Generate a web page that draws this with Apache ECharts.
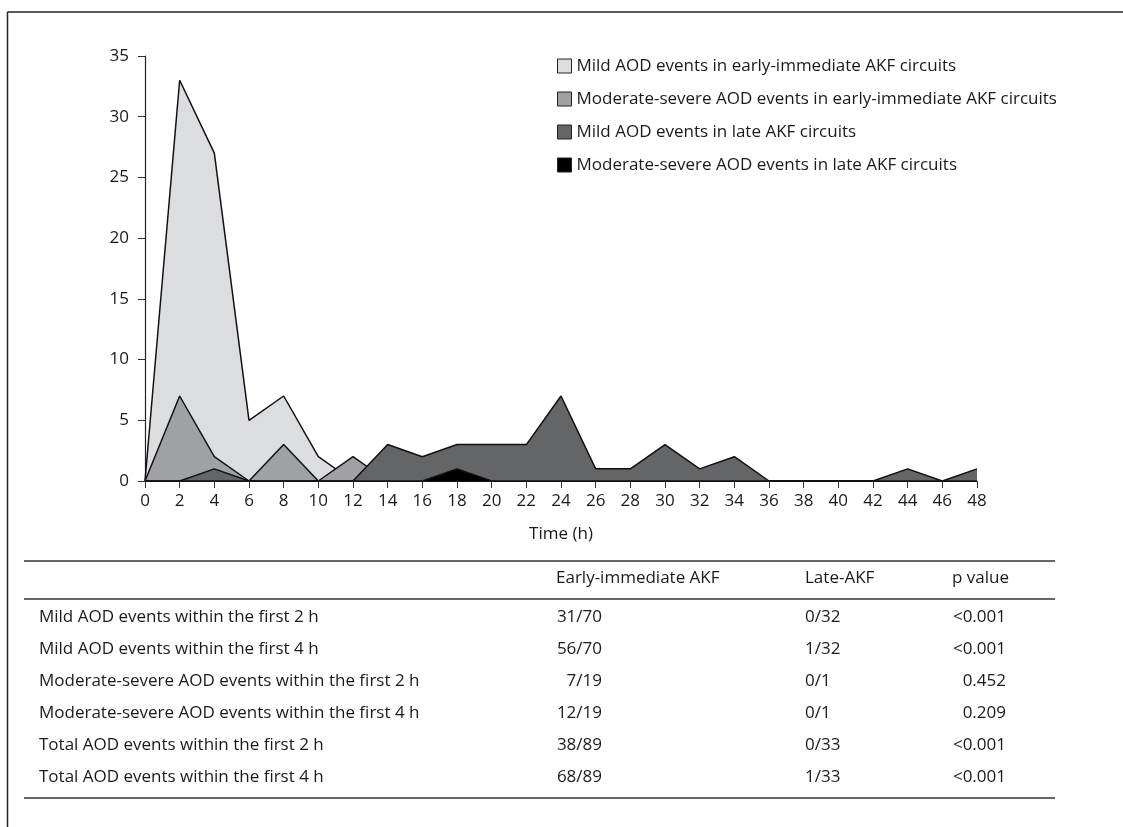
<!DOCTYPE html>
<html>
<head>
<meta charset="utf-8">
<script src="https://cdn.jsdelivr.net/npm/echarts@6/dist/echarts.min.js"></script>
<style>
html,body{margin:0;padding:0;background:#fff;}
#c{width:1123px;height:827px;}
</style>
</head>
<body>
<div id="c"></div>
<script>
// ---- chart data ----
const hours = ['0','2','4','6','8','10','12','14','16','18','20','22','24','26','28','30','32','34','36','38','40','42','44','46','48'];
const mildEarly   = [0,33,27,5,7,2,0,0,0,0,0,0,0,0,0,0,0,0,0,0,0,0,0,0,0];
const modSevEarly = [0,7,2,0,3,0,2,0,0,0,0,0,0,0,0,0,0,0,0,0,0,0,0,0,0];
const mildLate    = [0,0,1,0,0,0,0,3,2,3,3,3,7,1,1,3,1,2,0,0,0,0,1,0,1];
const modSevLate  = [0,0,0,0,0,0,0,0,0,1,0,0,0,0,0,0,0,0,0,0,0,0,0,0,0];
const seriesNames = [
  'Mild AOD events in early-immediate AKF circuits',
  'Moderate-severe AOD events in early-immediate AKF circuits',
  'Mild AOD events in late AKF circuits',
  'Moderate-severe AOD events in late AKF circuits'
];
const yTicks = [0,5,10,15,20,25,30,35];

// ---- table data ----
const tableHeader = ['', 'Early-immediate AKF', 'Late-AKF', 'p value'];
const rowLabels = [
  'Mild AOD events within the first 2 h',
  'Mild AOD events within the first 4 h',
  'Moderate-severe AOD events within the first 2 h',
  'Moderate-severe AOD events within the first 4 h',
  'Total AOD events within the first 2 h',
  'Total AOD events within the first 4 h'
];
const earlyVals = ['31/70','56/70','7/19','12/19','38/89','68/89'];
const lateVals  = ['0/32','1/32','0/1','0/1','0/33','1/33'];
const pVals     = ['<0.001','<0.001','0.452','0.209','<0.001','<0.001'];

const FONT = '"Open Sans", "Noto Sans", sans-serif';
const FS = 17;
const TXT = '#1a1a1a';
const fills = ['#dcdde0','#a0a1a4','#646567','#000000'];
const dataSets = [mildEarly, modSevEarly, mildLate, modSevLate];

const series = dataSets.map((d, i) => ({
  name: seriesNames[i],
  type: 'line',
  data: d,
  showSymbol: false,
  symbol: 'none',
  color: fills[i],
  lineStyle: { color: '#111', width: 1.5 },
  areaStyle: { color: fills[i], opacity: 1 },
  itemStyle: { color: fills[i] },
  z: 2 + i,
  animation: false
}));

// graphic: frame + table
const g = [];
const line = (x1,y1,x2,y2,w,c) => g.push({type:'line', shape:{x1,y1,x2,y2}, style:{stroke:c||'#222', lineWidth:w||1.5}, silent:true});
const text = (t,x,y,align) => g.push({type:'text', x:0, y:0, style:{text:t, x, y, fill:TXT, font:FS + 'px ' + FONT, textAlign:align||'left', align:align||'left', textVerticalAlign:'middle', verticalAlign:'middle'}, silent:true});

line(7.5, 12, 1123, 12, 1.5, '#222');
line(7.5, 12, 7.5, 827, 1.5, '#222');

line(24, 561, 1055, 561, 1.5, '#333');
line(24, 599, 1055, 599, 1.5, '#333');
line(24, 798, 1055, 798, 1.5, '#333');

const headY = 578;
text(tableHeader[1], 556, headY, 'left');
text(tableHeader[2], 805, headY, 'left');
text(tableHeader[3], 952, headY, 'left');
rowLabels.forEach((lab, i) => {
  const y = 617 + 32 * i;
  text(lab, 39, y, 'left');
  text(earlyVals[i], 602, y, 'right');
  text(lateVals[i], 805, y, 'left');
  text(pVals[i], 1006, y, 'right');
});

const chart = echarts.init(document.getElementById('c'), null, {renderer:'canvas'});
chart.setOption({
  animation: false,
  backgroundColor: '#fff',
  textStyle: { fontFamily: FONT, color: TXT },
  grid: { left: 145, right: 146, top: 56, bottom: 346, containLabel: false },
  legend: {
    orient: 'vertical',
    left: 557,
    top: 56,
    padding: 0,
    icon: 'rect',
    itemWidth: 14,
    itemHeight: 14,
    itemGap: 13,
    itemStyle: { borderColor: '#222', borderWidth: 1 },
    textStyle: { fontSize: FS, color: TXT, fontFamily: FONT, lineHeight: 20 },
    data: seriesNames,
    selectedMode: false
  },
  xAxis: {
    type: 'category',
    data: hours,
    boundaryGap: false,
    axisLine: { lineStyle: { color: '#222', width: 1.2 } },
    axisTick: { length: 7, alignWithLabel: true, lineStyle: { color: '#333' } },
    axisLabel: { fontSize: FS, color: TXT, margin: 12, interval: 0, fontFamily: FONT },
    name: 'Time (h)',
    nameLocation: 'middle',
    nameGap: 45,
    nameTextStyle: { fontSize: FS, color: TXT, fontFamily: FONT },
    splitLine: { show: false }
  },
  yAxis: {
    type: 'value',
    min: yTicks[0],
    max: yTicks[yTicks.length - 1],
    interval: 5,
    axisLine: { show: true, lineStyle: { color: '#222', width: 1.2 } },
    axisTick: { show: true, length: 7, lineStyle: { color: '#333' } },
    axisLabel: { fontSize: FS, color: TXT, margin: 16, fontFamily: FONT },
    splitLine: { show: false }
  },
  series: series,
  graphic: { elements: g }
});
</script>
</body>
</html>
